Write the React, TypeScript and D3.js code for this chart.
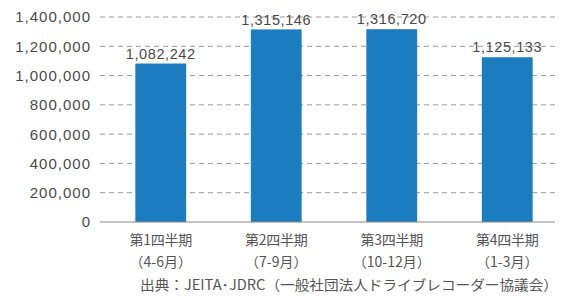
import * as d3 from "d3";
import React from "react";

const quarters = ["第1四半期", "第2四半期", "第3四半期", "第4四半期"];
const months = ["（4-6月）", "（7-9月）", "（10-12月）", "（1-3月）"];
const units = [1082242, 1315146, 1316720, 1125133];
const yTicks = [0, 200000, 400000, 600000, 800000, 1000000, 1200000, 1400000];
const source = "出典：JEITA･JDRC（一般社団法人ドライブレコーダー協議会）";

const W = 562;
const H = 298;
const fontNum = "'Liberation Sans', Arial, sans-serif";
const fontJp = "'Noto Sans CJK JP', sans-serif";

export function App() {
  const y = d3.scaleLinear().domain([0, 1400000]).range([222, 17]);
  const x = d3
    .scaleBand<string>()
    .domain(quarters)
    .range([103, 565])
    .paddingInner(0.56)
    .paddingOuter(0.28);
  const fmt = d3.format(",");

  return (
    <svg
      width={W}
      height={H}
      style={{ position: "absolute", left: 0, top: 0, background: "#fff" }}
    >
      {yTicks.map((t) => (
        <g key={t}>
          {t > 0 && (
            <line
              x1={100}
              x2={555}
              y1={y(t)}
              y2={y(t)}
              stroke="#9a9a9a"
              strokeDasharray="5,4"
            />
          )}
          <text
            x={91}
            y={y(t)}
            dy="0.36em"
            textAnchor="end"
            fontFamily={fontNum}
            fontSize={15}
            letterSpacing={1}
            fill="#4a4a4a"
          >
            {fmt(t)}
          </text>
        </g>
      ))}
      {quarters.map((q, i) => (
        <g key={q}>
          <rect
            x={x(q)}
            y={y(units[i])}
            width={x.bandwidth()}
            height={y(0) - y(units[i])}
            fill="#1b7dc0"
          />
          <text
            x={x(q)! + x.bandwidth() / 2}
            y={y(units[i]) - 10}
            dy="0.36em"
            textAnchor="middle"
            fontFamily={fontNum}
            fontSize={14.5}
            letterSpacing={0.6}
            fill="#4a4a4a"
          >
            {fmt(units[i])}
          </text>
          <text
            x={x(q)! + x.bandwidth() / 2}
            y={240}
            dy="0.36em"
            textAnchor="middle"
            fontFamily={fontJp}
            fontSize={14}
            letterSpacing={-0.3}
            fill="#555"
          >
            {q}
          </text>
          <text
            x={x(q)! + x.bandwidth() / 2}
            y={262}
            dy="0.36em"
            textAnchor="middle"
            fontFamily={fontJp}
            fontSize={14}
            fill="#555"
          >
            {months[i]}
          </text>
        </g>
      ))}
      <line x1={100} x2={555} y1={y(0)} y2={y(0)} stroke="#8a8a8a" strokeWidth={1.2} />
      <text
        x={140}
        y={285}
        dy="0.36em"
        fontFamily={fontJp}
        fontSize={14}
        textLength={418}
        lengthAdjust="spacingAndGlyphs"
        fill="#555"
      >
        {source}
      </text>
    </svg>
  );
}

export default App;
